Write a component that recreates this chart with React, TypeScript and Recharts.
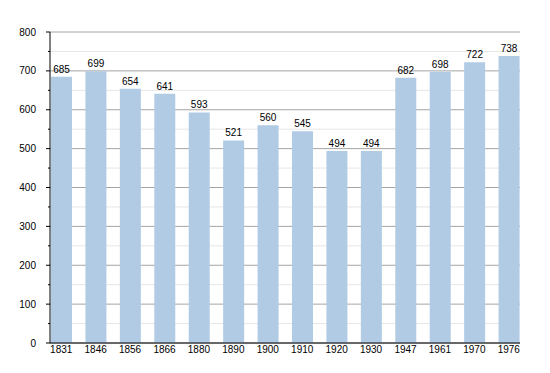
import React from 'react';
import {
  BarChart,
  Bar,
  XAxis,
  YAxis,
  CartesianGrid,
  LabelList,
} from 'recharts';

const years = ['1831', '1846', '1856', '1866', '1880', '1890', '1900', '1910', '1920', '1930', '1947', '1961', '1970', '1976'];
const population = [685, 699, 654, 641, 593, 521, 560, 545, 494, 494, 682, 698, 722, 738];

const majorTicks = [0, 100, 200, 300, 400, 500, 600, 700, 800];
const minorTicks = [50, 150, 250, 350, 450, 550, 650, 750];
const allTicks = [...majorTicks, ...minorTicks].sort((a, b) => a - b);

const data = years.map((year, i) => ({ year, value: population[i] }));

const FONT = '"Liberation Sans", Arial, Helvetica, sans-serif';

// y ticks: long mark + label on hundreds, short mark only on fifties
function YTick(props: any) {
  const { x, y, payload } = props;
  const isMajor = payload.value % 100 === 0;
  return (
    <g>
      <line x1={x - (isMajor ? 4 : 2)} x2={x} y1={y} y2={y} stroke="#000" strokeWidth={1} />
      {isMajor && (
        <text x={x - 14} y={y} dy="0.35em" textAnchor="end" fontSize={10} fill="#000" fontFamily={FONT}>
          {payload.value}
        </text>
      )}
    </g>
  );
}

export default function App() {
  return (
    <div style={{ position: 'absolute', left: 0, top: 0, width: 550, height: 373, background: '#fff' }}>
      <BarChart
        width={550}
        height={373}
        data={data}
        margin={{ top: 32, right: 30, bottom: 0, left: 0 }}
        barSize={21}
      >
        <CartesianGrid
          vertical={false}
          horizontalValues={minorTicks}
          stroke="#e6e6e6"
        />
        <CartesianGrid
          vertical={false}
          horizontalValues={majorTicks}
          stroke="#a4a4a4"
        />
        <XAxis
          dataKey="year"
          height={30}
          padding={{ left: -6, right: -6 }}
          axisLine={{ stroke: '#000' }}
          tickLine={false}
          tickSize={0}
          tickMargin={3}
          interval={0}
          tick={{ fontSize: 10, fill: '#000', fontFamily: FONT }}
        />
        <YAxis
          width={50}
          domain={[0, 800]}
          ticks={allTicks}
          interval={0}
          axisLine={{ stroke: '#000' }}
          tickLine={false}
          tickSize={0}
          tickMargin={0}
          tick={<YTick />}
        />
        <Bar dataKey="value" fill="#b1cbe5" isAnimationActive={false}>
          <LabelList
            dataKey="value"
            position="top"
            offset={4}
            fontSize={10}
            fill="#000"
            fontFamily={FONT}
          />
        </Bar>
      </BarChart>
    </div>
  );
}
